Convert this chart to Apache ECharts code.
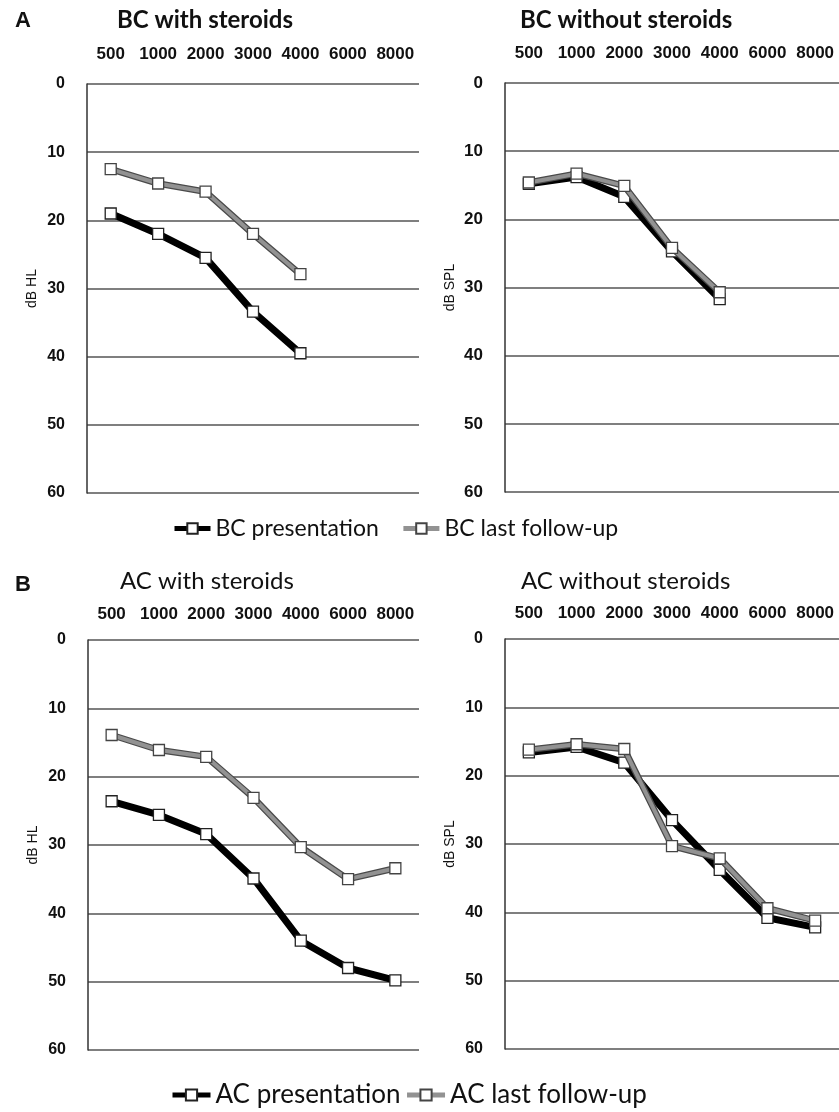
<!DOCTYPE html>
<html>
<head>
<meta charset="utf-8">
<script src="https://cdn.jsdelivr.net/npm/echarts@6/dist/echarts.min.js"></script>
<style>
html,body{margin:0;padding:0;background:#fff;}
#chart{width:839px;height:1112px;}
</style>
</head>
<body>
<div id="chart"></div>
<script>
// ---- data ----
var freqLabels = ['500', '1000', '2000', '3000', '4000', '6000', '8000'];
var yTicks = [0, 10, 20, 30, 40, 50, 60];

var bcSteroidPres   = [19.0, 22.0, 25.5, 33.4, 39.5, null, null];
var bcSteroidLast   = [12.5, 14.6, 15.8, 22.0, 27.9, null, null];
var bcNoSteroidPres = [14.8, 13.8, 16.7, 24.7, 31.7, null, null];
var bcNoSteroidLast = [14.6, 13.3, 15.1, 24.2, 30.7, null, null];
var acSteroidPres   = [23.6, 25.6, 28.4, 34.9, 44.0, 48.0, 49.8];
var acSteroidLast   = [13.9, 16.1, 17.1, 23.1, 30.3, 35.0, 33.4];
var acNoSteroidPres = [16.6, 15.8, 18.1, 26.5, 33.8, 40.8, 42.2];
var acNoSteroidLast = [16.2, 15.4, 16.1, 30.3, 32.1, 39.4, 41.2];

var panelTitles = ['BC with steroids', 'BC without steroids', 'AC with steroids', 'AC without steroids'];
var panelLetters = ['A', 'B'];
var yNames = ['dB HL', 'dB SPL', 'dB HL', 'dB SPL'];
var legendBC = ['BC presentation', 'BC last follow-up'];
var legendAC = ['AC presentation', 'AC last follow-up'];

// ---- layout ----
var grids = [
  {left: 87, top: 84, width: 332, height: 409},
  {left: 505, top: 83, width: 334, height: 409},
  {left: 88, top: 640, width: 331, height: 410},
  {left: 505, top: 639, width: 334, height: 410}
];
var yLabelSize = [16, 17, 16, 16];

var chart = echarts.init(document.getElementById('chart'), null, {renderer: 'canvas'});

var xAxes = [], yAxes = [], series = [];
grids.forEach(function (g, i) {
  xAxes.push({
    type: 'category', gridIndex: i, position: 'top', data: freqLabels, boundaryGap: true,
    axisLine: {show: false}, axisTick: {show: false},
    axisLabel: {interval: 0, margin: i < 2 ? 21 : 17, fontFamily: 'Liberation Sans', fontWeight: 'bold',
      fontSize: 17, color: '#111'}
  });
  yAxes.push({
    type: 'value', gridIndex: i, inverse: true, min: 0, max: 60, interval: 10,
    name: yNames[i], nameLocation: 'middle', nameGap: 48, nameRotate: 90,
    nameTextStyle: {fontFamily: 'Liberation Sans', fontSize: 14, color: '#111'},
    axisLine: {show: true, lineStyle: {color: '#333', width: 1.5}},
    axisTick: {show: false},
    axisLabel: {margin: 22, fontFamily: 'Liberation Sans', fontWeight: 'bold', fontSize: yLabelSize[i], color: '#111'},
    splitLine: {show: true, lineStyle: {color: '#555', width: 1.5}}
  });
});

function addPanel(idx, pres, last, names) {
  series.push({
    name: names[0], type: 'line', xAxisIndex: idx, yAxisIndex: idx, data: pres,
    symbol: 'rect', symbolSize: 11, z: 2,
    lineStyle: {color: '#000', width: 7},
    itemStyle: {color: '#fff', borderColor: '#222', borderWidth: 1.3}
  });
  series.push({
    name: names[1] + ' edge', type: 'line', xAxisIndex: idx, yAxisIndex: idx, data: last,
    symbol: 'none', z: 3, silent: true,
    lineStyle: {color: '#4a4a4a', width: 6.5}
  });
  series.push({
    name: names[1], type: 'line', xAxisIndex: idx, yAxisIndex: idx, data: last,
    symbol: 'rect', symbolSize: 11, z: 4,
    lineStyle: {color: '#929292', width: 4},
    itemStyle: {color: '#fff', borderColor: '#444', borderWidth: 1.3}
  });
}
addPanel(0, bcSteroidPres, bcSteroidLast, legendBC);
addPanel(1, bcNoSteroidPres, bcNoSteroidLast, legendBC);
addPanel(2, acSteroidPres, acSteroidLast, legendAC);
addPanel(3, acNoSteroidPres, acNoSteroidLast, legendAC);

var titleFont = 'Lato';
function txt(s, left, top, size, weight, family) {
  return {type: 'text', left: left, top: top,
    style: {text: s, fontSize: size, fontWeight: weight, fontFamily: family, fill: '#111'}};
}
var option = {
  animation: false,
  backgroundColor: '#fff',
  grid: grids,
  xAxis: xAxes,
  yAxis: yAxes,
  series: series,
  legend: [
    {data: legendBC, left: 167, top: 512, itemWidth: 36, itemHeight: 13, itemGap: 22, selectedMode: false,
      lineStyle: {width: 5},
      textStyle: {fontFamily: titleFont, fontSize: 23, color: '#111'}},
    {data: legendAC, left: 165, top: 1077, itemWidth: 38, itemHeight: 14, itemGap: 4, selectedMode: false,
      lineStyle: {width: 5},
      textStyle: {fontFamily: titleFont, fontSize: 26, color: '#111'}}
  ],
  graphic: [
    txt(panelLetters[0], 15, 10, 22, 'bold', 'Liberation Sans'),
    txt(panelLetters[1], 15, 574, 22, 'bold', 'Liberation Sans'),
    txt(panelTitles[0], 117, 8, 24, 'bold', titleFont),
    txt(panelTitles[1], 520, 8, 24, 'bold', titleFont),
    txt(panelTitles[2], 120, 569, 24, 'normal', titleFont),
    txt(panelTitles[3], 521, 569, 24, 'normal', titleFont)
  ]
};
chart.setOption(option);
</script>
</body>
</html>
